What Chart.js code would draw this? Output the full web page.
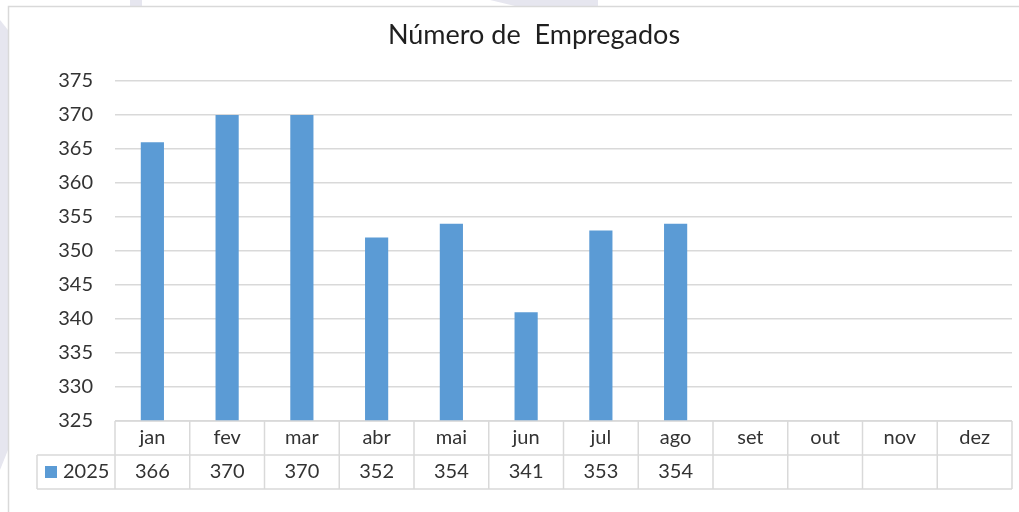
<!DOCTYPE html>
<html>
<head>
<meta charset="utf-8">
<script src="https://cdn.jsdelivr.net/npm/chart.js@4.4.1/dist/chart.umd.min.js"></script>
<style>
html,body{margin:0;padding:0;background:#fff;}
#wrap{position:relative;width:1019px;height:512px;overflow:hidden;}
canvas{display:block;}
</style>
</head>
<body>
<div id="wrap"><canvas id="c" width="1019" height="512"></canvas></div>
<script>
const title = 'Número de  Empregados';
const categories = ['jan','fev','mar','abr','mai','jun','jul','ago','set','out','nov','dez'];
const seriesName = '2025';
const values2025 = [366, 370, 370, 352, 354, 341, 353, 354, null, null, null, null];
const yMin = 325, yMax = 375, yStep = 5;

const FONT = 'Lato, "Open Sans", sans-serif';
const TEXT = '#333333';
const GRID = '#d9d9d9';
const BAR = '#5b9bd5';

const framePlugin = {
  id: 'frame',
  beforeDraw(chart) {
    const ctx = chart.ctx;
    ctx.save();
    ctx.fillStyle = '#fff';
    ctx.fillRect(0, 0, chart.width, chart.height);
    ctx.fillStyle = '#e6e6ef';
    ctx.beginPath();
    ctx.moveTo(0, 20); ctx.lineTo(8, 30); ctx.lineTo(8, 450); ctx.lineTo(0, 470); ctx.closePath();
    ctx.fill();
    ctx.fillRect(130, 0, 12, 6);
    ctx.beginPath();
    ctx.moveTo(490, 0); ctx.lineTo(598, 0); ctx.lineTo(598, 6); ctx.lineTo(515, 6); ctx.closePath();
    ctx.fill();
    ctx.strokeStyle = GRID;
    ctx.lineWidth = 1.5;
    ctx.beginPath();
    ctx.moveTo(8.5, 512); ctx.lineTo(8.5, 6.5); ctx.lineTo(1019, 6.5);
    ctx.stroke();
    ctx.restore();
  }
};

const tablePlugin = {
  id: 'dataTable',
  afterDraw(chart) {
    const ctx = chart.ctx;
    const x = chart.scales.x;
    const area = chart.chartArea;
    const n = categories.length;
    const half = (x.getPixelForValue(1) - x.getPixelForValue(0)) / 2;
    const top = area.bottom;
    const rowH = 34;
    const mid = top + rowH;
    const bot = top + 2 * rowH;
    const legendLeft = 37;
    ctx.save();
    ctx.strokeStyle = GRID;
    ctx.lineWidth = 1.5;
    ctx.beginPath();
    ctx.moveTo(area.left, top); ctx.lineTo(area.right, top);
    ctx.moveTo(legendLeft, mid); ctx.lineTo(area.right, mid);
    ctx.moveTo(legendLeft, bot); ctx.lineTo(area.right, bot);
    ctx.moveTo(legendLeft, mid); ctx.lineTo(legendLeft, bot);
    for (let i = 0; i <= n; i++) {
      const px = i < n ? x.getPixelForValue(i) - half : x.getPixelForValue(n - 1) + half;
      ctx.moveTo(px, top); ctx.lineTo(px, bot);
    }
    ctx.stroke();
    ctx.fillStyle = TEXT;
    ctx.font = '20px ' + FONT;
    ctx.textAlign = 'center';
    ctx.textBaseline = 'middle';
    for (let i = 0; i < n; i++) {
      const cx = x.getPixelForValue(i);
      ctx.fillText(categories[i], cx, top + rowH / 2);
      if (values2025[i] !== null) ctx.fillText(String(values2025[i]), cx, mid + rowH / 2);
    }
    ctx.fillStyle = BAR;
    ctx.fillRect(45, mid + 11, 12, 12);
    ctx.fillStyle = TEXT;
    ctx.textAlign = 'left';
    ctx.fillText(seriesName, 63, mid + rowH / 2);
    ctx.restore();
  }
};

const titlePlugin = {
  id: 'titleText',
  afterDraw(chart) {
    const ctx = chart.ctx;
    ctx.save();
    ctx.fillStyle = '#1f1f1f';
    ctx.font = '27px ' + FONT;
    ctx.textAlign = 'center';
    ctx.textBaseline = 'middle';
    ctx.fillText(title, 534, 35);
    ctx.restore();
  }
};

new Chart(document.getElementById('c'), {
  type: 'bar',
  data: {
    labels: categories,
    datasets: [{
      label: seriesName,
      data: values2025,
      backgroundColor: BAR,
      borderWidth: 0,
      categoryPercentage: 1,
      barPercentage: 0.31
    }]
  },
  options: {
    responsive: false,
    animation: false,
    events: [],
    layout: { padding: { left: 0, top: 81, right: 7, bottom: 91 } },
    plugins: {
      legend: { display: false },
      title: { display: false },
      tooltip: { enabled: false }
    },
    scales: {
      x: { display: false, offset: true },
      y: {
        min: yMin, max: yMax,
        afterFit(scale) { scale.width = 115; },
        border: { display: false },
        grid: { color: GRID, lineWidth: 1.5, drawTicks: false },
        ticks: { stepSize: yStep, padding: 22, color: TEXT, font: { family: FONT, size: 20 } }
      }
    }
  },
  plugins: [framePlugin, tablePlugin, titlePlugin]
});
</script>
</body>
</html>
